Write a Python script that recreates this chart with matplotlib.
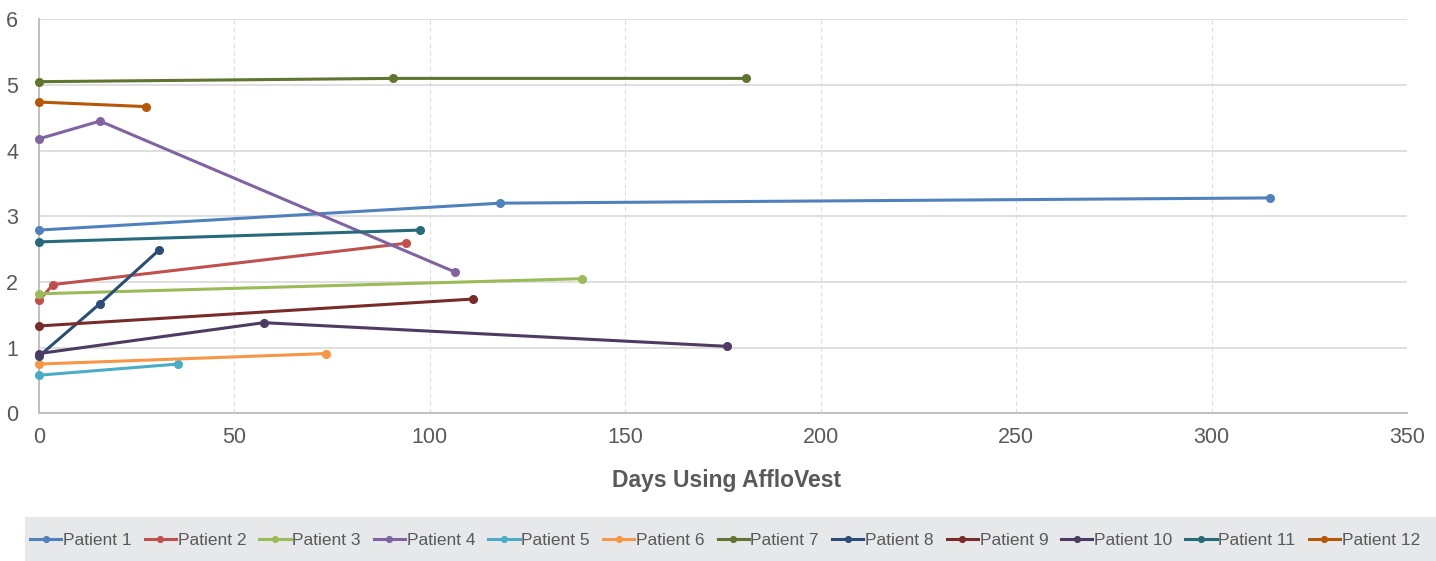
import matplotlib
matplotlib.use('Agg')
import matplotlib.pyplot as plt
from matplotlib.patches import Rectangle

plt.rcParams['font.family'] = ['Liberation Sans', 'DejaVu Sans']

# Days using AffloVest and measured value for each patient
patients = ['Patient 1', 'Patient 2', 'Patient 3', 'Patient 4', 'Patient 5', 'Patient 6',
            'Patient 7', 'Patient 8', 'Patient 9', 'Patient 10', 'Patient 11', 'Patient 12']
days = [
    [0, 118, 315],
    [0, 3.6, 94],
    [0, 139],
    [0, 15.6, 106.5],
    [0, 35.5],
    [0, 73.5],
    [0, 90.5, 181],
    [0, 15.6, 30.6],
    [0, 111],
    [0, 57.5, 176],
    [0, 97.5],
    [0, 27.5],
]
values = [
    [2.79, 3.20, 3.28],
    [1.72, 1.96, 2.59],
    [1.82, 2.05],
    [4.18, 4.45, 2.15],
    [0.58, 0.75],
    [0.75, 0.91],
    [5.05, 5.10, 5.10],
    [0.87, 1.67, 2.48],
    [1.33, 1.74],
    [0.91, 1.38, 1.02],
    [2.61, 2.79],
    [4.74, 4.67],
]
colors = ['#4F81BD', '#C0504D', '#9BBB59', '#8064A2', '#4BACC6', '#F79646',
          '#5F7530', '#2C4D75', '#772C2A', '#4D3B62', '#276A7C', '#B65708']

text_color = '#595959'

fig = plt.figure(figsize=(14.36, 5.61), dpi=100)
ax = fig.add_axes([39 / 1436, 1 - 413.3 / 561, (1407 - 39) / 1436, (413.3 - 19.3) / 561])

for name, x, y, c in zip(patients, days, values, colors):
    ax.plot(x, y, color=c, linewidth=2.2, marker='o', markersize=5.5,
            label=name, clip_on=False, zorder=3)

ax.set_xlim(0, 350)
ax.set_ylim(0, 6)
ax.set_xticks(range(0, 351, 50))
ax.set_yticks(range(0, 7))

ax.yaxis.grid(True, color='#d9d9d9', linewidth=1.2, linestyle='-')
ax.xaxis.grid(True, color='#dddddd', linewidth=0.8, linestyle=(0, (4, 3)))
ax.set_axisbelow(True)

for s in ['top', 'right']:
    ax.spines[s].set_visible(False)
for s in ['left', 'bottom']:
    ax.spines[s].set_color('#c0c0c0')
    ax.spines[s].set_linewidth(1.4)

ax.tick_params(axis='both', length=0, labelsize=15.5, labelcolor=text_color)
ax.tick_params(axis='y', pad=15)
ax.tick_params(axis='x', pad=10)

fig.text(727 / 1436, 1 - 481 / 561, 'Days Using AffloVest', ha='center', va='center',
         fontsize=16.5, fontweight='bold', color=text_color)

# legend band
fig.patches.append(Rectangle((25 / 1436, 0), 1 - 25 / 1436, 44 / 561, transform=fig.transFigure,
                             facecolor='#e7e8ea', edgecolor='none', zorder=0))
leg = fig.legend(loc='center', bbox_to_anchor=(725 / 1436, 1 - 540 / 561), ncol=12,
                 frameon=False, fontsize=12.5, handlelength=1.8, handletextpad=0.1,
                 columnspacing=0.75, markerscale=0.75)
for t in leg.get_texts():
    t.set_color(text_color)

fig.savefig('out.png', dpi=100)
